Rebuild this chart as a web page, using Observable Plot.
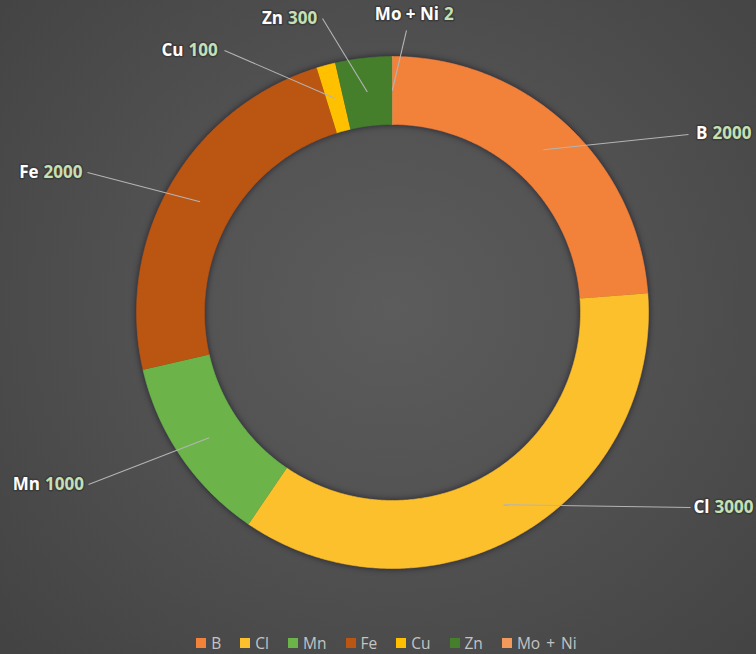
<!DOCTYPE html>
<html>
<head>
<meta charset="utf-8">
<script src="https://cdn.jsdelivr.net/npm/d3@7"></script>
<script src="https://cdn.jsdelivr.net/npm/@observablehq/plot@0.6"></script>
<style>
  html, body { margin: 0; padding: 0; }
  body {
    width: 756px; height: 654px; overflow: hidden; position: relative;
    background: radial-gradient(ellipse 70% 75% at 52% 47%, #5c5c5c 0%, #525252 45%, #434343 100%);
    font-family: "Open Sans", "Liberation Sans", sans-serif;
  }
  #chart { position: absolute; left: 0; top: 0; }
  #legend { position: absolute; left: 0; top: 634px; width: 756px; height: 18px;
            display: flex; justify-content: center; padding-left: 36px; box-sizing: border-box; }
  #legend .lg-swatches { min-height: 18px !important; height: 18px; line-height: 18px; font-size: 15.5px !important;
            color: #c4c4c4 !important; font-family: "Open Sans", sans-serif !important; margin: 0 !important; word-spacing: 2px; }
  #legend .lg-swatch { margin-right: 19px !important; }
  #legend .lg-swatch > svg { margin-right: 5px !important; }
</style>
</head>
<body>
<div id="chart"></div>
<div id="legend"></div>
<script>
// ---- data ----
const categories = ["B", "Cl", "Mn", "Fe", "Cu", "Zn", "Mo + Ni"];
const values = [2000, 3000, 1000, 2000, 100, 300, 2];
const colors = ["#f2823a", "#fcc02c", "#6cb44a", "#bb5512", "#ffc000", "#467f2c", "#f4995c"];

// ---- layout (in units of outer radius, centre of the ring = 0,0) ----
const labelAnchor = [[1.2402, 0.6992], [1.2480, -0.7617], [-1.3672, -0.6719], [-1.3730, 0.5469],
                     [-0.8066, 1.0234], [-0.4180, 1.1484], [0.1914, 1.1641]];
const leaderStart = [[1.1563, 0.6953], [1.1641, -0.7617], [-1.1875, -0.6719], [-1.1914, 0.5469],
                     [-0.6563, 1.0234], [-0.2734, 1.1484], [0.0547, 1.1016]];

const W = 756, H = 630, CX = 392, CY = 312, R = 256;
const rOut = 1, rIn = 188 / 256, rMid = (rOut + rIn) / 2;

const total = d3.sum(values);
let acc = 0;
const slices = categories.map((c, i) => {
  const a0 = acc / total * 2 * Math.PI;
  acc += values[i];
  const a1 = acc / total * 2 * Math.PI;
  return {cat: c, value: values[i], a0, a1, mid: (a0 + a1) / 2};
});

// polygon points for every ring slice
const ringPts = [];
for (const s of slices) {
  const n = Math.max(2, Math.ceil((s.a1 - s.a0) / (Math.PI / 360)));
  for (let k = 0; k <= n; k++) {
    const a = s.a0 + (s.a1 - s.a0) * k / n;
    ringPts.push({cat: s.cat, x: rOut * Math.sin(a), y: rOut * Math.cos(a)});
  }
  for (let k = n; k >= 0; k--) {
    const a = s.a0 + (s.a1 - s.a0) * k / n;
    ringPts.push({cat: s.cat, x: rIn * Math.sin(a), y: rIn * Math.cos(a)});
  }
}

const labels = slices.map((s, i) => ({
  cat: s.cat, value: String(s.value),
  x: labelAnchor[i][0], y: labelAnchor[i][1],
  x1: leaderStart[i][0], y1: leaderStart[i][1],
  x2: rMid * Math.sin(s.mid), y2: rMid * Math.cos(s.mid)
}));

const chart = Plot.plot({
  width: W, height: H,
  margin: 0,
  style: {background: "transparent", overflow: "visible"},
  x: {domain: [-CX / R, (W - CX) / R], axis: null},
  y: {domain: [-(H - CY) / R, CY / R], axis: null},
  color: {domain: categories, range: colors},
  marks: [
    Plot.line(ringPts, {x: "x", y: "y", z: "cat", fill: "cat", stroke: "cat", strokeWidth: 0.6, curve: "linear"}),
    Plot.link(labels, {x1: "x1", y1: "y1", x2: "x2", y2: "y2", stroke: "#b4b4b4", strokeWidth: 1.1}),
    Plot.text(labels, {x: "x", y: "y", text: "cat", textAnchor: "end", dx: -2.5, fill: "#ffffff",
      fontWeight: "bold", fontSize: 17, fontFamily: "Open Sans", stroke: "#3c3c3c", strokeWidth: 3}),
    Plot.text(labels, {x: "x", y: "y", text: "value", textAnchor: "start", dx: 2.5, fill: "#c5e0b4",
      fontWeight: "bold", fontSize: 17, fontFamily: "Open Sans", stroke: "#3c3c3c", strokeWidth: 3})
  ]
});
d3.select(chart).selectAll('g[aria-label="line"]').style("filter", "drop-shadow(0px 0px 3px rgba(15,15,35,0.75))");
document.getElementById("chart").appendChild(chart);

const legend = Plot.legend({
  color: {domain: categories, range: colors},
  legend: "swatches",
  swatchSize: 10,
  className: "lg"
});
document.getElementById("legend").appendChild(legend);
</script>
</body>
</html>
